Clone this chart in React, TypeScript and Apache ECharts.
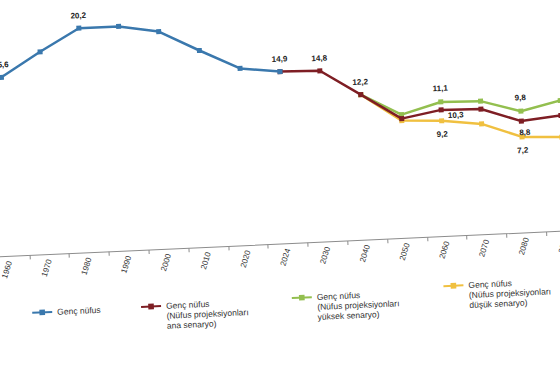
import React, { useEffect, useRef } from "react";
import * as echarts from "echarts";

const years = ["1960", "1970", "1980", "1990", "2000", "2010", "2020", "2024", "2030", "2040", "2050", "2060", "2070", "2080", "2090"];
const youth = [15.6, 18.0, 20.2, 20.2, 19.5, 17.4, 15.4, 14.9, null, null, null, null, null, null, null];
const mainScenario = [null, null, null, null, null, null, null, 14.9, 14.8, 12.2, 9.6, 10.3, 10.2, 8.8, 9.2];
const highScenario = [null, null, null, null, null, null, null, null, null, 12.2, 10.0, 11.1, 11.0, 9.8, 10.7];
const lowScenario = [null, null, null, null, null, null, null, null, null, 12.2, 9.4, 9.2, 8.7, 7.2, 7.0];

const youthLabeled = ["1960", "1980", "2024"];
const mainLabeled = ["2030", "2040", "2060", "2080"];
const highLabeled = ["2060", "2080"];
const lowLabeled = ["2060", "2080"];

const names = [
  "Genç nüfus",
  "Genç nüfus (Nüfus projeksiyonları ana senaryo)",
  "Genç nüfus (Nüfus projeksiyonları yüksek senaryo)",
  "Genç nüfus (Nüfus projeksiyonları düşük senaryo)",
];
const colors = ["#3a78ad", "#7e1e24", "#93bf4f", "#f0c040"];

const FONT = "'Liberation Sans', Arial, sans-serif";
const fmt = (v: number) => v.toFixed(1).replace(".", ",");

function build(values: (number | null)[], labeled: string[], label: any) {
  return values.map((v, i) => {
    if (v === null) return null;
    if (labeled.includes(years[i])) {
      return { value: v, label: { show: true, ...label } };
    }
    return { value: v };
  });
}

const labelBase = {
  fontSize: 8,
  fontWeight: "bold",
  color: "#222",
  fontFamily: FONT,
  formatter: (p: any) => fmt(p.value),
};

export default function App() {
  const ref = useRef<HTMLDivElement>(null);
  useEffect(() => {
    if (!ref.current) return;
    const chart = echarts.init(ref.current, null, { renderer: "svg" });
    const mkSeries = (i: number, data: any[], z: number) => ({
      name: names[i],
      type: "line",
      data,
      z,
      symbol: "rect",
      symbolSize: 5,
      connectNulls: false,
      lineStyle: { color: colors[i], width: 2.5 },
      itemStyle: { color: colors[i] },
      label: { show: false },
    });
    const mkLegend = (i: number, left: number, top: number, multi: boolean) => ({
      data: [names[i]],
      left,
      top,
      padding: 0,
      itemWidth: 20,
      itemHeight: 7,
      formatter: (n: string) =>
        multi ? "\n\n" + n.replace(" (", "\n(").replace("ları ", "ları\n") : n,
      textStyle: {
        fontSize: 8.5,
        color: "#333",
        fontFamily: FONT,
        lineHeight: 10,
      },
    });
    chart.setOption({
      animation: false,
      backgroundColor: "#ffffff",
      grid: { left: 18, right: 25, top: 9, bottom: 143.5 },
      xAxis: {
        type: "category",
        data: years,
        boundaryGap: true,
        axisLine: { show: true, onZero: false, lineStyle: { color: "#8c8c8c", width: 1 } },
        axisTick: { show: true, length: 4, lineStyle: { color: "#8c8c8c" } },
        axisLabel: { rotate: 70, fontSize: 8, color: "#333", margin: 5, interval: 0, fontFamily: FONT },
        splitLine: { show: false },
      },
      yAxis: {
        type: "value",
        min: -2.5,
        max: 22.5,
        show: false,
        splitLine: { show: false },
      },
      legend: [
        mkLegend(0, 57, 309, false),
        mkLegend(1, 166, 288, true),
        mkLegend(2, 317, 286, true),
        mkLegend(3, 469, 281, true),
      ],
      series: [
        mkSeries(0, build(youth, youthLabeled, { ...labelBase, position: "top", distance: 6 }), 5),
        mkSeries(1, mainScenario.map((v, i) => {
          if (v === null) return null;
          const y = years[i];
          if (!mainLabeled.includes(y)) return { value: v };
          if (y === "2060") return { value: v, label: { show: true, ...labelBase, position: "right", distance: 4, offset: [0, 6] } };
          if (y === "2080") return { value: v, label: { show: true, ...labelBase, position: "bottom", distance: 5, offset: [3, 0] } };
          return { value: v, label: { show: true, ...labelBase, position: "top", distance: 6 } };
        }), 4),
        mkSeries(2, build(highScenario, highLabeled, { ...labelBase, position: "top", distance: 7 }), 3),
        mkSeries(3, build(lowScenario, lowLabeled, { ...labelBase, position: "bottom", distance: 7 }), 2),
      ],
    });
    return () => chart.dispose();
  }, []);
  return (
    <div style={{ position: "fixed", left: 0, top: 0, width: 560, height: 380, overflow: "hidden", background: "#fff" }}>
      <div
        ref={ref}
        style={{
          position: "absolute",
          left: -40,
          top: 0,
          width: 640,
          height: 400,
          transform: "rotate(-2.6deg)",
          transformOrigin: "40px 0px",
        }}
      />
    </div>
  );
}
